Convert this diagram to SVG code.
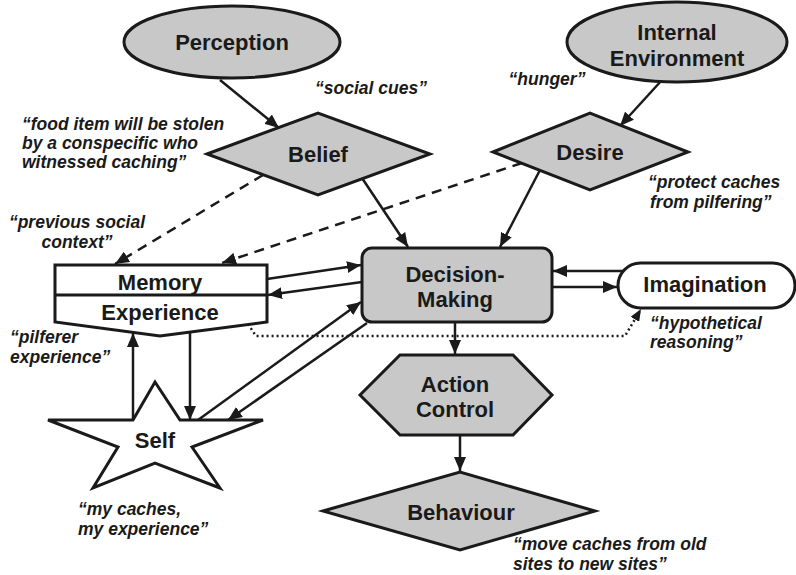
<svg xmlns="http://www.w3.org/2000/svg" width="796" height="575" viewBox="0 0 796 575">
<defs>
<style>
.node{fill:#c8c8c8;stroke:#1a1a1a;stroke-width:3;stroke-linejoin:miter}
.wnode{fill:#ffffff;stroke:#1a1a1a;stroke-width:3;stroke-linejoin:miter}
.lbl{font-family:"Liberation Sans",Arial,sans-serif;font-weight:bold;font-size:22px;fill:#1a1a1a;text-anchor:middle}
.note{font-family:"Liberation Sans",Arial,sans-serif;font-weight:bold;font-style:italic;font-size:17.5px;fill:#1a1a1a}
.c{fill:none;stroke:#1a1a1a;stroke-width:2.5;marker-end:url(#arr)}
.d{fill:none;stroke:#1a1a1a;stroke-width:2.5;stroke-dasharray:10 7;marker-end:url(#arr)}
.t{fill:none;stroke:#1a1a1a;stroke-width:1.5;marker-end:url(#sarr)}
.dot{fill:none;stroke:#1a1a1a;stroke-width:2.5;stroke-dasharray:2 3;marker-end:url(#sarr)}
</style>
<marker id="arr" viewBox="0 0 14 12" refX="14" refY="6" markerWidth="14" markerHeight="12" orient="auto" markerUnits="userSpaceOnUse"><path d="M0,0 L14,6 L0,12 z" fill="#1a1a1a"/></marker>
<marker id="sarr" viewBox="0 0 12 10" refX="12" refY="5" markerWidth="12" markerHeight="10" orient="auto" markerUnits="userSpaceOnUse"><path d="M0,0 L12,5 L0,10 z" fill="#1a1a1a"/></marker>
</defs>
<rect width="796" height="575" fill="#ffffff"/>

<g id="connectors">
<line class="c" x1="220" y1="80" x2="279" y2="128"/>
<line class="c" x1="662" y1="80" x2="620" y2="126"/>
<line class="c" x1="362" y1="178" x2="408" y2="247"/>
<line class="c" x1="540" y1="170" x2="500" y2="247"/>
<line class="d" x1="263" y1="175" x2="115" y2="264"/>
<line class="d" x1="522" y1="163" x2="222" y2="263"/>
<line class="c" x1="267" y1="279" x2="361" y2="265"/>
<line class="c" x1="362" y1="282" x2="268" y2="295"/>
<line class="c" x1="627" y1="271" x2="553" y2="271"/>
<line class="c" x1="553" y1="287" x2="617" y2="287"/>
<line class="c" x1="455" y1="322" x2="455" y2="354"/>
<line class="c" x1="460" y1="435" x2="460" y2="471"/>
<line class="c" x1="133" y1="420" x2="133" y2="333"/>
<line class="c" x1="190" y1="333" x2="190" y2="420"/>
<line class="c" x1="198" y1="420" x2="361" y2="302"/>
<line class="c" x1="367" y1="323" x2="228" y2="420"/>
<polyline class="dot" points="248,324 256,336 625,336 641,309"/>
<line class="t" x1="82" y1="282" x2="82" y2="313"/>
<line class="t" x1="239" y1="315" x2="239" y2="272"/>
</g>

<g id="perception">
<ellipse class="node" cx="232" cy="42" rx="108" ry="36"/>
<text class="lbl" x="232" y="50">Perception</text>
</g>
<g id="internal-environment">
<ellipse class="node" cx="677" cy="42" rx="110" ry="40"/>
<text class="lbl" x="677" y="40">Internal</text>
<text class="lbl" x="677" y="66">Environment</text>
</g>
<g id="belief">
<polygon class="node" points="207,154 318,113 430,154 318,195"/>
<text class="lbl" x="318" y="162">Belief</text>
</g>
<g id="desire">
<polygon class="node" points="493,152 590,113 688,152 590,190"/>
<text class="lbl" x="590" y="160">Desire</text>
</g>
<g id="memory">
<polygon class="wnode" points="55,265 267,265 267,322 160,336 55,322"/>
<line x1="55" y1="295" x2="267" y2="295" stroke="#1a1a1a" stroke-width="3"/>
<text class="lbl" x="160" y="290">Memory</text>
<text class="lbl" x="160" y="320">Experience</text>
</g>
<g id="decision-making">
<rect class="node" x="362" y="248" width="190" height="74" rx="10" ry="10"/>
<text class="lbl" x="455" y="282">Decision-</text>
<text class="lbl" x="455" y="307">Making</text>
</g>
<g id="imagination">
<rect class="wnode" x="618" y="263" width="177" height="45" rx="22.5" ry="22.5"/>
<text class="lbl" x="705" y="292">Imagination</text>
</g>
<g id="action-control">
<polygon class="node" points="360,395 400,355 513,355 552,395 513,435 400,435"/>
<text class="lbl" x="455" y="392">Action</text>
<text class="lbl" x="455" y="417">Control</text>
</g>
<g id="behaviour">
<polygon class="node" points="323,511 460,472 595,511 460,550"/>
<text class="lbl" x="461" y="520">Behaviour</text>
</g>
<g id="self">
<polygon class="wnode" points="155,382 180,420 263,420 192,447 220,488 155,463 93,488 118,447 48,420 133,420"/>
<text class="lbl" x="155" y="448">Self</text>
</g>

<g id="notes">
<text class="note" x="371" y="94" text-anchor="middle">“social cues”</text>
<text class="note" x="22" y="130">“food item will be stolen</text>
<text class="note" x="22" y="149">by a conspecific who</text>
<text class="note" x="22" y="168">witnessed caching”</text>
<text class="note" x="77" y="228" text-anchor="middle">“previous social</text>
<text class="note" x="77" y="248" text-anchor="middle">context”</text>
<text class="note" x="10" y="343">“pilferer</text>
<text class="note" x="10" y="363">experience”</text>
<text class="note" x="78" y="515">“my caches,</text>
<text class="note" x="78" y="535">my experience”</text>
<text class="note" x="547" y="85" text-anchor="middle">“hunger”</text>
<text class="note" x="648" y="188">“protect caches</text>
<text class="note" x="650" y="208">from pilfering”</text>
<text class="note" x="650" y="329">“hypothetical</text>
<text class="note" x="650" y="348">reasoning”</text>
<text class="note" x="513" y="550">“move caches from old</text>
<text class="note" x="513" y="570">sites to new sites”</text>
</g>
</svg>
